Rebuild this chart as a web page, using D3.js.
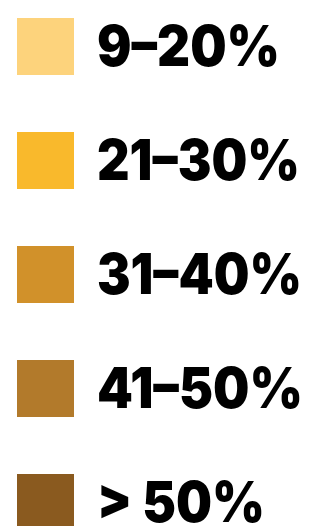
<!DOCTYPE html>
<html><head><meta charset="utf-8">
<script src="https://cdn.jsdelivr.net/npm/d3@7"></script>
<style>html,body{margin:0;padding:0;background:#fff;}</style>
</head><body>
<script>
const categories = ["9–20%", "21–30%", "31–40%", "41–50%", "> 50%"];
const colors = ["#FDD37C", "#F9B92C", "#D1912A", "#B27A2B", "#8A5A1F"];
const labelWidths = [183, 203, 205, 206, 168];

const W = 311, H = 526;
const svg = d3.select("body").append("svg").attr("width", W).attr("height", H);
const y = d3.scaleBand().domain(categories).range([18, 588]).paddingInner(0);
const color = d3.scaleOrdinal().domain(categories).range(colors);
const size = 57;
const baseFont = 48, capFont = 56;

const g = svg.selectAll("g.item").data(categories).join("g").attr("class", "item")
  .attr("transform", d => `translate(0,${y(d)})`);
g.append("rect").attr("x", 17).attr("y", 0).attr("width", size).attr("height", size)
  .attr("fill", d => color(d));
g.append("text").attr("x", 0).attr("y", 0)
  .attr("font-family", "Inter, 'Open Sans', sans-serif")
  .attr("font-weight", 900).attr("font-size", baseFont).attr("fill", "#000")
  .text(d => d)
  .each(function(d, i) {
    const natural = this.getComputedTextLength();
    const sx = labelWidths[i] / natural;
    const sy = capFont / baseFont;
    d3.select(this).attr("transform", `translate(97,48) scale(${sx},${sy})`);
  });
</script>
</body></html>
